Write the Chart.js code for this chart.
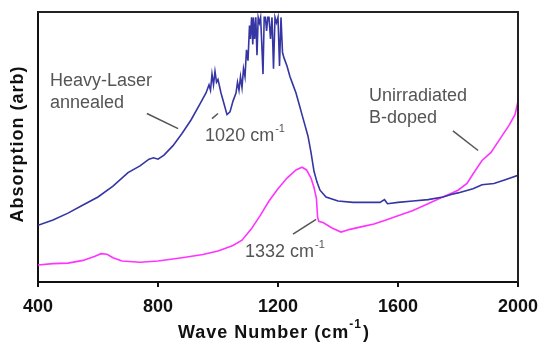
<!DOCTYPE html>
<html>
<head>
<meta charset="utf-8">
<script src="https://cdn.jsdelivr.net/npm/chart.js@4.4.0/dist/chart.umd.min.js"></script>
<style>
  html, body { margin: 0; padding: 0; background: #fff; }
  #wrap { width: 542px; height: 344px; }
</style>
</head>
<body>
<div id="wrap"><canvas id="chart" width="542" height="344"></canvas></div>
<script>
const laserWave = [400,450,500,550,600,650,700,740,770,785,800,820,850,880,910,940,960,970,975,980,985,990,995,1000,1010,1020,1030,1040,1050,1060,1065,1070,1075,1080,1085,1090,1095,1100,1105,1108,1112,1116,1118,1122,1126,1130,1134,1138,1142,1146,1150,1154,1158,1162,1166,1170,1175,1180,1185,1190,1195,1200,1205,1210,1215,1220,1230,1240,1250,1260,1270,1280,1290,1300,1310,1320,1330,1340,1360,1400,1450,1500,1540,1555,1565,1600,1650,1700,1750,1780,1800,1850,1880,1920,1960,2000];
const laserAbs = [21,23,25.5,28.5,31.5,35.5,40.5,43,45.5,46,45.5,47,50.5,55,60,66,70,73,71,77,73,78,74,75,70,66,62,63,67,70,74,71,76,72,79,76,86,82,95,90,98,88,98,90,98,84,98,96,98,88,77,98,98,93,98,98,90,98,79,98,96,98,80,98,85,83,80,76,73,70,66,62,58,54,48,41,37,34,31.5,30,29.5,29.5,29.5,30.5,29,29.5,30,30.5,31.5,32.5,33,34.5,36,36.5,38,39.5];

const dopedWave = [400,450,500,550,590,610,630,650,680,740,800,880,950,1000,1050,1080,1110,1140,1170,1200,1230,1260,1280,1295,1310,1320,1328,1332,1336,1350,1380,1410,1440,1480,1520,1560,1600,1650,1700,1740,1780,1800,1830,1850,1880,1910,1940,1970,1990,2000];
const dopedAbs = [6.3,6.8,7,8,9.5,10.5,10.3,9,7.8,7.3,7.8,9,10.2,11.5,13.5,15.5,19.5,24.5,30,34.5,38.5,41.5,42.5,41.5,38.5,35,31,24,22.5,22,20,18.5,19.5,20.5,21.5,23,24.5,26.5,29,31,33,34,36.5,40,45,48,53,58,62,67];

const xTicks = [400, 800, 1200, 1600, 2000];

// Anotações (posições em unidades dos dados)
const notes = [
    { lines: ['Heavy-Laser', 'annealed'], x: 440, y: 74.5, lead: [763, 62.4, 867, 56.8] },
    { lines: ['1020 cm'], sup: '-1', x: 957, y: 54.2, lead: [980, 60.5, 1000, 62.4] },
    { lines: ['Unirradiated', 'B-doped'], x: 1503, y: 69, lead: [1783, 56, 1867, 48.7] },
    { lines: ['1332 cm'], sup: '-1', x: 1090, y: 11, lead: [1250, 17.7, 1327, 23.2] }
];

const FONT = '"Liberation Sans", Arial, sans-serif';

function toPoints(xs, ys) {
    return xs.map((x, i) => ({ x: x, y: ys[i] }));
}

const decorPlugin = {
    id: 'decor',
    afterDraw(chart) {
        const ctx = chart.ctx;
        const a = chart.chartArea;
        const sx = chart.scales.x, sy = chart.scales.y;
        ctx.save();
        // moldura superior e direita
        ctx.strokeStyle = '#222';
        ctx.lineWidth = 2;
        ctx.beginPath();
        ctx.moveTo(a.left, a.top);
        ctx.lineTo(a.right, a.top);
        ctx.lineTo(a.right, a.bottom);
        ctx.stroke();

        // anotações
        ctx.fillStyle = '#555';
        ctx.strokeStyle = '#555';
        ctx.lineWidth = 1.5;
        ctx.textBaseline = 'middle';
        ctx.textAlign = 'left';
        notes.forEach(n => {
            const px = sx.getPixelForValue(n.x);
            const py = sy.getPixelForValue(n.y);
            n.lines.forEach((t, i) => {
                ctx.font = '18px ' + FONT;
                ctx.fillText(t, px, py + i * 22);
                if (n.sup && i === 0) {
                    const w = ctx.measureText(t).width;
                    ctx.font = '11px ' + FONT;
                    ctx.fillText(n.sup, px + w + 1, py - 7);
                }
            });
            ctx.beginPath();
            ctx.moveTo(sx.getPixelForValue(n.lead[0]), sy.getPixelForValue(n.lead[1]));
            ctx.lineTo(sx.getPixelForValue(n.lead[2]), sy.getPixelForValue(n.lead[3]));
            ctx.stroke();
        });

        // títulos dos eixos
        ctx.fillStyle = '#111';
        ctx.letterSpacing = '1px';
        const t1 = 'Wave Number (cm';
        const t2 = ')';
        ctx.font = 'bold 18px ' + FONT;
        const w1 = ctx.measureText(t1).width;
        ctx.font = 'bold 12px ' + FONT;
        const ws = ctx.measureText('-1').width;
        ctx.font = 'bold 18px ' + FONT;
        const w2 = ctx.measureText(t2).width;
        const total = w1 + ws + 1 + w2;
        const tx = (a.left + a.right) / 2 - total / 2 - 4;
        const ty = 333;
        ctx.fillText(t1, tx, ty);
        ctx.font = 'bold 12px ' + FONT;
        ctx.fillText('-1', tx + w1, ty - 8);
        ctx.font = 'bold 18px ' + FONT;
        ctx.fillText(t2, tx + w1 + ws + 1, ty);

        ctx.translate(18, 144);
        ctx.rotate(-Math.PI / 2);
        ctx.textAlign = 'center';
        ctx.fillText('Absorption (arb)', 0, 0);
        ctx.restore();
    }
};

new Chart(document.getElementById('chart'), {
    type: 'scatter',
    data: {
        datasets: [
            {
                label: 'Heavy-Laser annealed',
                data: toPoints(laserWave, laserAbs),
                showLine: true,
                borderColor: '#3535a3',
                borderWidth: 1.6,
                pointRadius: 0,
                tension: 0
            },
            {
                label: 'Unirradiated B-doped',
                data: toPoints(dopedWave, dopedAbs),
                showLine: true,
                borderColor: '#ff33ff',
                borderWidth: 1.6,
                pointRadius: 0,
                tension: 0
            }
        ]
    },
    options: {
        responsive: false,
        animation: false,
        layout: { padding: { top: 12, right: 24, left: 0, bottom: 0 } },
        plugins: {
            legend: { display: false },
            tooltip: { enabled: false }
        },
        scales: {
            x: {
                type: 'linear',
                min: 400,
                max: 2000,
                afterBuildTicks: function(scale) {
                    scale.ticks = xTicks.map(v => ({ value: v }));
                },
                afterFit: function(scale) {
                    scale.height = 62;
                    scale.paddingLeft = 0;
                    scale.paddingRight = 0;
                },
                border: { color: '#111', width: 2 },
                grid: { drawOnChartArea: false, tickLength: 5, color: '#111', lineWidth: 2 },
                ticks: {
                    color: '#111',
                    padding: 9,
                    maxRotation: 0,
                    callback: v => String(v),
                    font: { family: FONT, size: 18, weight: 'bold' }
                }
            },
            y: {
                min: 0,
                max: 100,
                afterFit: function(scale) { scale.width = 38; },
                border: { color: '#111', width: 2 },
                grid: { display: false },
                ticks: { display: false }
            }
        }
    },
    plugins: [decorPlugin]
});
</script>
</body>
</html>
